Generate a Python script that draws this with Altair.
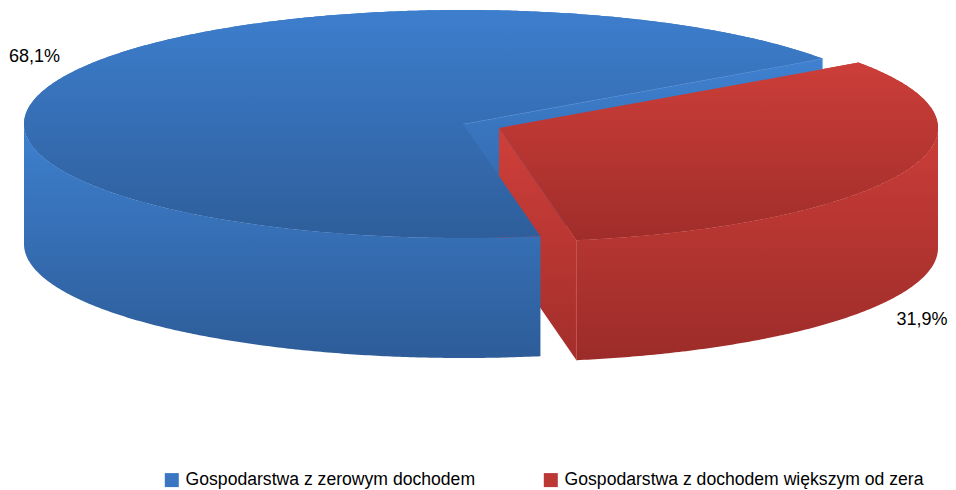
import math
import altair as alt

# ---- data ----
categories = ["Gospodarstwa z zerowym dochodem", "Gospodarstwa z dochodem większym od zera"]
shares = [68.1, 31.9]
label_texts = ["68,1%", "31,9%"]

# ---- drawing geometry (page pixels, pie seen in perspective) ----
CX, CY = 463.0, 124.0
RX, RY = 439.0, 114.0
DEPTH = 120.0
EXPLODE = (36.0, 4.0)
START = 35.0
W, H = 940, 482
PAGE = 8
FONT = "Liberation Sans"


def pt(t, off=(0, 0), drop=0):
    r = math.radians(t)
    return [CX + off[0] + RX * math.cos(r), CY + off[1] - RY * math.sin(r) + drop]


def arc(a, b, off=(0, 0), drop=0):
    n = max(2, int(abs(b - a) * 2))
    return [pt(a + (b - a) * i / n, off, drop) for i in range(n + 1)]


def feat(kind, coords, cat=""):
    geom = {"type": kind, "coordinates": [coords + [coords[0]]] if kind == "Polygon" else coords}
    return {"type": "Feature", "properties": {"category": cat}, "geometry": geom}


split = START + shares[0] * 3.6
end = START + 360.0
c0 = [CX, CY]
c1 = [CX + EXPLODE[0], CY + EXPLODE[1]]


def down(p):
    return [p[0], p[1] + DEPTH]


blue_top = [c0] + arc(START, split)
red_top = [c1] + arc(split, end, EXPLODE)
blue_wall = arc(180, split) + arc(split, 180, (0, 0), DEPTH)
red_wall = arc(split, 360, EXPLODE) + arc(360, split, EXPLODE, DEPTH)
p_start = pt(START)
p_split_red = pt(split, EXPLODE)
blue_cut = [c0, p_start, down(p_start), down(c0)]
red_cut = [c1, p_split_red, down(p_split_red), down(c1)]

projection = alt.Projection(type="identity", scale=1, translate=[-PAGE, -PAGE])


def grad(top, bottom):
    return alt.Gradient(
        gradient="linear", x1=0, x2=0, y1=0, y2=1,
        stops=[alt.GradientStop(color=top, offset=0), alt.GradientStop(color=bottom, offset=1)],
    )


def shape(feature, **mark):
    return (
        alt.Chart(alt.InlineData(values={"type": "FeatureCollection", "features": [feature]},
                                 format=alt.DataFormat(property="features", type="json")))
        .mark_geoshape(opacity=1, **mark)
        .project(**projection.to_dict())
    )


def fill(coords, top, bottom):
    return shape(feat("Polygon", coords), fill=grad(top, bottom), strokeWidth=0)


def line(coords, colour, width=1):
    return shape(feat("LineString", coords), filled=False, stroke=colour, strokeWidth=width)


base = (
    alt.Chart(alt.InlineData(values={"type": "FeatureCollection", "features": [
        feat("Polygon", blue_top, categories[0]), feat("Polygon", red_top, categories[1])]},
        format=alt.DataFormat(property="features", type="json")))
    .mark_geoshape(opacity=1, strokeWidth=0)
    .encode(
        color=alt.Color(
            "properties.category:N",
            scale=alt.Scale(domain=categories, range=["#3a76c2", "#bb3835"]),
            legend=alt.Legend(
                title=None, orient="none", legendX=163 - PAGE, legendY=471 - PAGE, direction="horizontal",
                columns=2, gridAlign="each", columnPadding=66, symbolType="square", symbolSize=196,
                symbolStrokeWidth=0, labelFont=FONT, labelFontSize=17.6, labelColor="#000000",
                labelOffset=5, labelLimit=500, padding=0,
            ),
        )
    )
    .project(**projection.to_dict())
)

labels = (
    alt.Chart(alt.Data(values=[
        {"text": label_texts[0], "lon": 34.5, "lat": 56.5},
        {"text": label_texts[1], "lon": 922.0, "lat": 319.5},
    ]))
    .mark_text(font=FONT, fontSize=18, color="#000000", align="center", baseline="middle")
    .encode(longitude="lon:Q", latitude="lat:Q", text="text:N")
    .project(**projection.to_dict())
)

chart = (
    alt.layer(
        base,
        fill(blue_cut, "#3f81d1", "#2f619f"),
        line([c0, p_start], "#6496d8", 1),
        line([p_start, down(p_start)], "#8fb6e6", 1),
        fill(red_cut, "#cf3f3a", "#a32e2b"),
        fill(blue_top, "#3d7ecd", "#2e5e9b"),
        fill(blue_wall, "#3e80cf", "#2d5c98"),
        fill(red_top, "#cc3e39", "#a02d2a"),
        fill(red_wall, "#cb3d39", "#9c2c29"),
        line([p_split_red, down(p_split_red)], "#c4514c", 1),
        labels,
    )
    .properties(width=W, height=H, padding=0, autosize=alt.AutoSizeParams(type="none"))
    .configure_view(stroke=None)
)

chart.save("out.html", embed_options={"renderer": "svg", "actions": False})
